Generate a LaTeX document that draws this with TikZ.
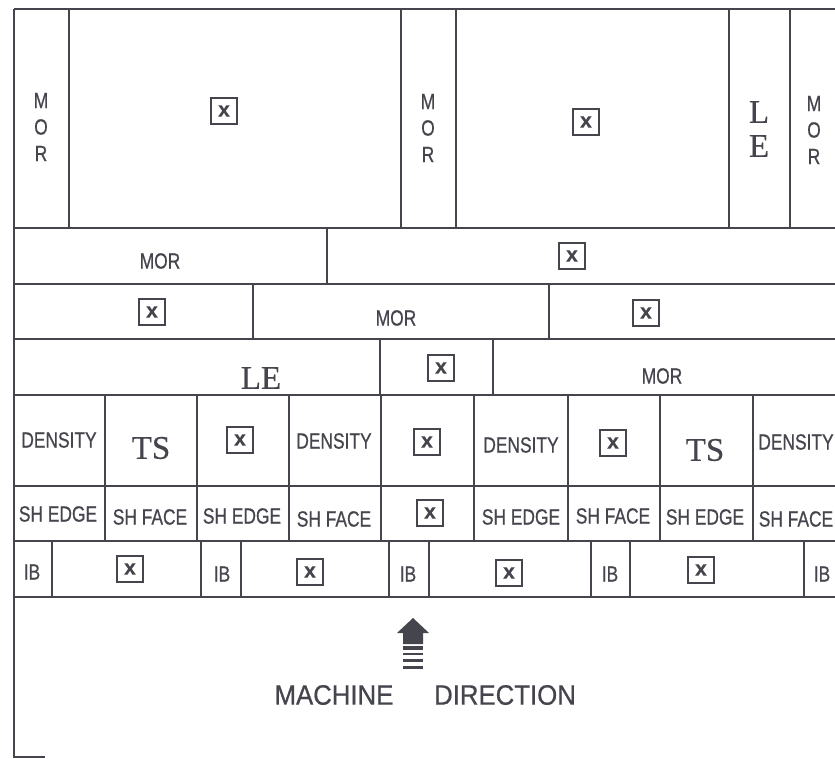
\documentclass[tikz,border=0pt]{standalone}
\usepackage{fontspec}
\setmainfont{Liberation Serif}
\setsansfont{Liberation Sans}
\newfontface\labelface{Liberation Sans}[FakeBold=0.7]
\newfontface\serifface{Liberation Serif}[FakeBold=0.4]
\newfontface\crossface{Liberation Sans Bold}[FakeBold=0.4]
\usepackage{xcolor}
\definecolor{sheetink}{HTML}{45454D}

\begin{document}
\begin{tikzpicture}[x=1pt, y=-1pt,
                    every node/.style={text=sheetink, inner sep=0pt},
                    grid/.style={sheetink, line width=1.8pt},
                    lbl/.style={font=\fontsize{22}{26.5}\selectfont\labelface, xscale=0.79, align=center},
                    serif/.style={font=\fontsize{33}{34}\selectfont\serifface, align=center},
                    mdlbl/.style={font=\fontsize{28}{30}\selectfont\labelface, xscale=0.92},
                    xbox/.style={draw=sheetink, line width=1.6pt, minimum size=26pt,
                                 font=\fontsize{21}{21}\selectfont\crossface}]

  %% page area
  \fill[white] (0,0) rectangle (835,759);
  \useasboundingbox (0,0) rectangle (835,759);

  %% outer border: top, left, and the short stub at the bottom
  \draw[grid] (14,9) -- (835,9);
  \draw[grid] (14,9) -- (14,757) -- (45,757);

  %% row boundaries
  \foreach \yy in {228,284,339,395,486,541,597}
    \draw[grid] (14,\yy) -- (835,\yy);

  %% row 1 columns
  \foreach \xx in {69,401,456,729,790}
    \draw[grid] (\xx,9) -- (\xx,228);
  %% rows 2 to 4
  \draw[grid] (327,228) -- (327,284);
  \foreach \xx in {253,549}
    \draw[grid] (\xx,284) -- (\xx,339);
  \foreach \xx in {380,493}
    \draw[grid] (\xx,339) -- (\xx,395);
  %% rows 5 and 6 share their columns
  \foreach \xx in {105,197,289,381,474,568,660,753}
    \draw[grid] (\xx,395) -- (\xx,541);
  %% row 7
  \foreach \xx in {52,201,241,389,429,591,630,804}
    \draw[grid] (\xx,541) -- (\xx,597);

  %% row 1
  \node[lbl] (mora) at (41,127) {M\\O\\R};
  \node[xbox] (xa) at (224,111) {x};
  \node[lbl] (morb) at (428,128) {M\\O\\R};
  \node[xbox] (xb) at (586,122) {x};
  \node[serif] (lea) at (759,129) {L\\E};
  \node[lbl] (morc) at (814,130) {M\\O\\R};

  %% row 2
  \node[lbl] (mord) at (160,261) {MOR};
  \node[xbox] (xc) at (572,256) {x};

  %% row 3
  \node[xbox] (xd) at (152,312) {x};
  \node[lbl] (more) at (396,318) {MOR};
  \node[xbox] (xe) at (646,313) {x};

  %% row 4
  \node[serif] (leb) at (261,378) {LE};
  \node[xbox] (xf) at (441,368) {x};
  \node[lbl] (morf) at (662,376) {MOR};

  %% row 5
  \node[lbl] (dena) at (59,440) {DENSITY};
  \node[serif] (tsa) at (151,448) {TS};
  \node[xbox] (xg) at (240,440) {x};
  \node[lbl] (denb) at (334,441) {DENSITY};
  \node[xbox] (xh) at (427,442) {x};
  \node[lbl] (denc) at (521,445) {DENSITY};
  \node[xbox] (xi) at (613,443) {x};
  \node[serif] (tsb) at (705,450) {TS};
  \node[lbl] (dend) at (796,442) {DENSITY};

  %% row 6
  \node[lbl] (sha) at (58,514) {SH EDGE};
  \node[lbl] (shb) at (150,517) {SH FACE};
  \node[lbl] (shc) at (242,516) {SH EDGE};
  \node[lbl] (shd) at (334,519) {SH FACE};
  \node[xbox] (xj) at (430,513) {x};
  \node[lbl] (she) at (521,517) {SH EDGE};
  \node[lbl] (shf) at (613,516) {SH FACE};
  \node[lbl] (shg) at (705,517) {SH EDGE};
  \node[lbl] (shh) at (796,519) {SH FACE};

  %% row 7
  \node[lbl] (iba) at (32,572) {IB};
  \node[xbox] (xk) at (130,569) {x};
  \node[lbl] (ibb) at (222,574) {IB};
  \node[xbox] (xl) at (310,572) {x};
  \node[lbl] (ibc) at (408,574) {IB};
  \node[xbox] (xm) at (509,573) {x};
  \node[lbl] (ibd) at (610,574) {IB};
  \node[xbox] (xn) at (701,570) {x};
  \node[lbl] (ibe) at (822,574) {IB};

  %% machine direction arrow with its striped tail
  \fill[sheetink] (413,618) -- (429,633) -- (423,633) -- (423,644)
                  -- (403,644) -- (403,633) -- (397,633) -- cycle;
  \foreach \ya/\yb in {646/650,652.5/655,659/661.5,666/668.5}
    \fill[sheetink] (403,\ya) rectangle (423,\yb);

  \node[mdlbl] (machine) at (334,695) {MACHINE};
  \node[mdlbl] (direction) at (505,695) {DIRECTION};

\end{tikzpicture}
\end{document}
